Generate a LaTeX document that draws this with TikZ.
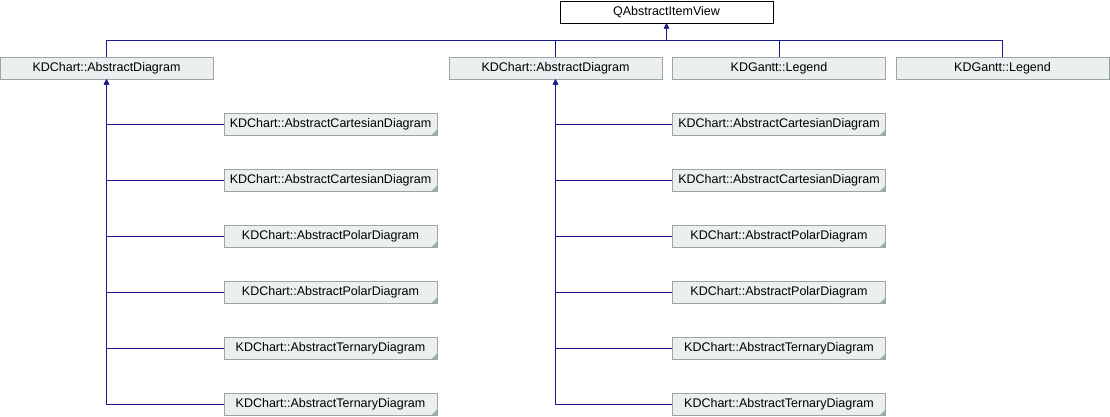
\documentclass[tikz,border=0pt]{standalone}
\usepackage{fontspec}
\setmainfont{Liberation Sans}
\usepackage{tikz}
\usetikzlibrary{arrows.meta,positioning}
\definecolor{edgeblue}{HTML}{1A1A8C}
\definecolor{boxfill}{HTML}{EBEFEF}
\definecolor{boxline}{HTML}{9AA6A6}
\definecolor{foldgrey}{HTML}{A3ABAB}

\begin{document}
\begin{tikzpicture}[x=1pt, y=-1pt,
    classbox/.style={draw=boxline, fill=boxfill, line width=0.9pt, minimum width=213pt, minimum height=22pt, inner sep=0pt, font=\fontsize{12.5}{14}\selectfont},
    foldbox/.style={classbox, path picture={\fill[foldgrey] ([xshift=-5.5pt]path picture bounding box.south east) -- (path picture bounding box.south east) -- ([yshift=5.5pt]path picture bounding box.south east) -- cycle;}},
    rootbox/.style={classbox, draw=black, fill=white},
    inherit/.style={draw=edgeblue, line width=1pt, -{Triangle[length=5pt,width=5pt]}}
  ]
    \useasboundingbox (0,0) rectangle (1110,416);

    % Base class
    \node[rootbox] (qaiv) at (666.5,12) {QAbstractItemView};
    \coordinate (bus) at (666.5,40);

    % First level
    \node[classbox] (diagA) at (106.5,68) {KDChart::AbstractDiagram};
    \node[classbox] (diagB) at (555.5,68) {KDChart::AbstractDiagram};
    \node[classbox] (legA) at (779,68) {KDGantt::Legend};
    \node[classbox] (legB) at (1002.5,68) {KDGantt::Legend};

    \foreach \n in {diagA, diagB, legA, legB}
        \draw[inherit] (\n.north) |- (bus) -- (qaiv.south);

    % Derived diagrams (two columns)
    \foreach \i/\y/\t in {1/124/Cartesian, 2/180/Cartesian, 3/236/Polar, 4/292/Polar, 5/348/Ternary, 6/404/Ternary} {
        \node[foldbox] (subA\i) at (330.5,\y) {KDChart::Abstract\t Diagram};
        \node[foldbox] (subB\i) at (779,\y) {KDChart::Abstract\t Diagram};
        \draw[inherit] (subA\i.west) -| (diagA.south);
        \draw[inherit] (subB\i.west) -| (diagB.south);
    }
\end{tikzpicture}
\end{document}
